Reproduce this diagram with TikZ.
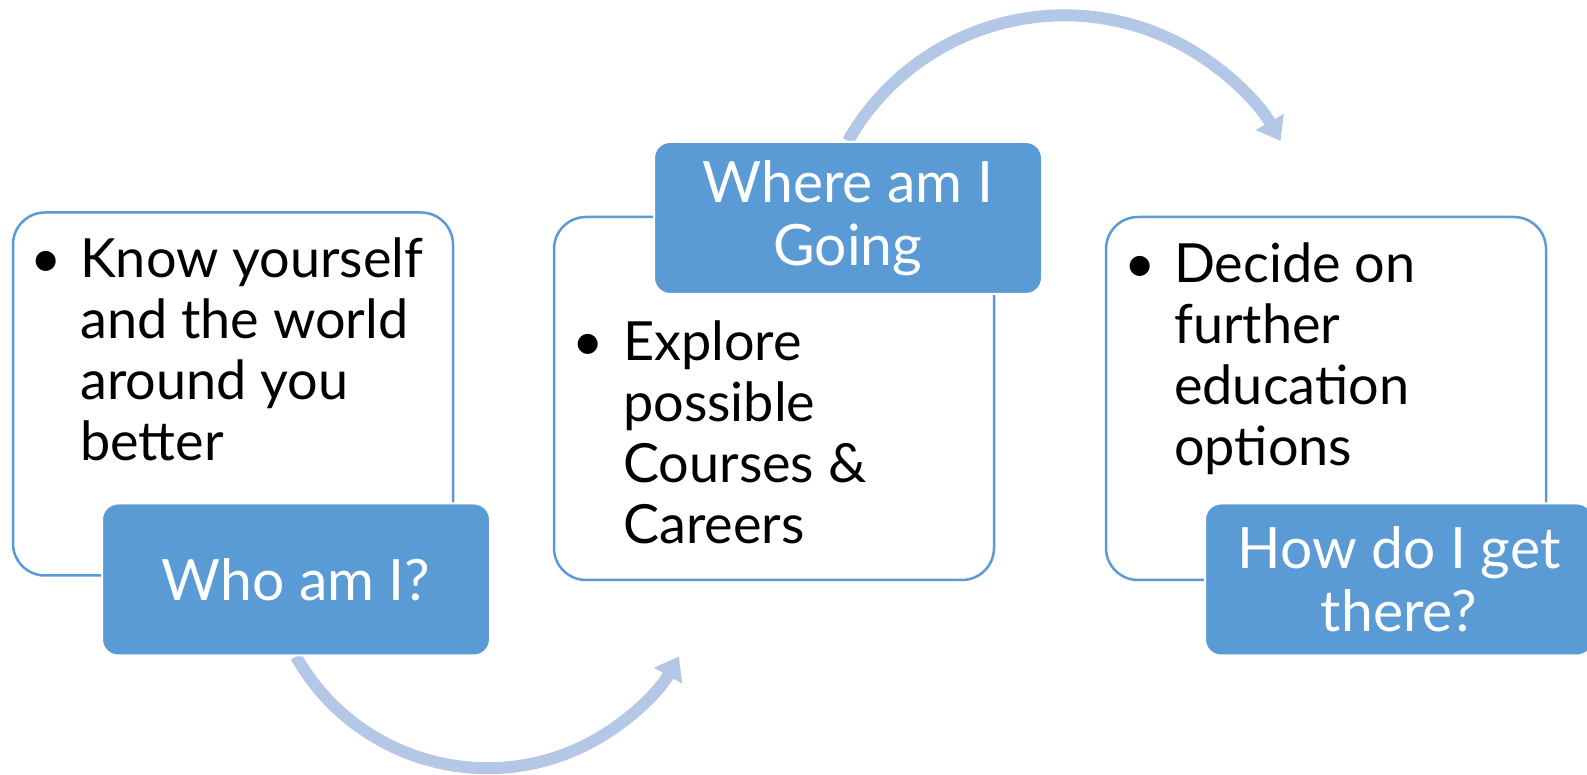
\documentclass[tikz,border=0pt]{standalone}
\usepackage{fontspec}
\setmainfont{Lato}
\usetikzlibrary{arrows.meta,backgrounds}
\definecolor{boxblue}{RGB}{91,155,213}
\definecolor{arcblue}{RGB}{180,199,231}
\tikzset{
  card/.style={draw=boxblue, line width=2.5pt, fill=white, rounded corners=32pt,
    minimum width=440pt, minimum height=363pt},
  tab/.style={fill=boxblue, draw=white, line width=2pt, rounded corners=16pt,
    minimum width=388pt, minimum height=152pt, text=white, align=center,
    font=\fontsize{57}{63}\selectfont},
  points/.style={anchor=north west, inner sep=0pt, font=\fontsize{54}{61}\selectfont},
  cycle arrow/.style={draw=arcblue, line width=12pt, -{Triangle[width=31pt,length=22pt]}}
}
\begin{document}
\begin{tikzpicture}[x=1pt, y=1pt]
	\useasboundingbox (0, 0) rectangle (1587, 775);
	% the three cards
	\node[card] (know) at (233, 381) {};
	\node[card] (explore) at (774, 376.5) {};
	\node[card] (decide) at (1326, 376.5) {};
	\node[points] (knowlist) at (30, 540.7) {\begin{tabular}{@{}p{50pt}@{}l@{}}
		\textbullet & Know yourself\\ & and the world\\ & around you\\ & better\end{tabular}};
	\node[points] (explorelist) at (572, 457.7) {\begin{tabular}{@{}p{51pt}@{}l@{}}
		\textbullet & Explore\\ & possible\\ & Courses \&\\ & Careers\end{tabular}};
	\node[points] (decidelist) at (1124, 535.7) {\begin{tabular}{@{}p{50pt}@{}l@{}}
		\textbullet & Decide on\\ & further\\ & education\\ & options\end{tabular}};
	% the questions
	\node[tab] (who) at (296, 195.5) {Who am I?};
	\node[tab] (where) at (848, 557) {Where am I\\Going};
	\node[tab] (how) at (1399, 195.5) {How do I get\\there?};
	% arrows between the steps, behind the tabs
	\begin{scope}[on background layer]
		\draw[cycle arrow] (who.south) arc[start angle=209.5, end angle=330.5, radius=220pt];
		\draw[cycle arrow] (where.north) arc[start angle=150.3, end angle=29.7, radius=249pt];
	\end{scope}
\end{tikzpicture}
\end{document}
